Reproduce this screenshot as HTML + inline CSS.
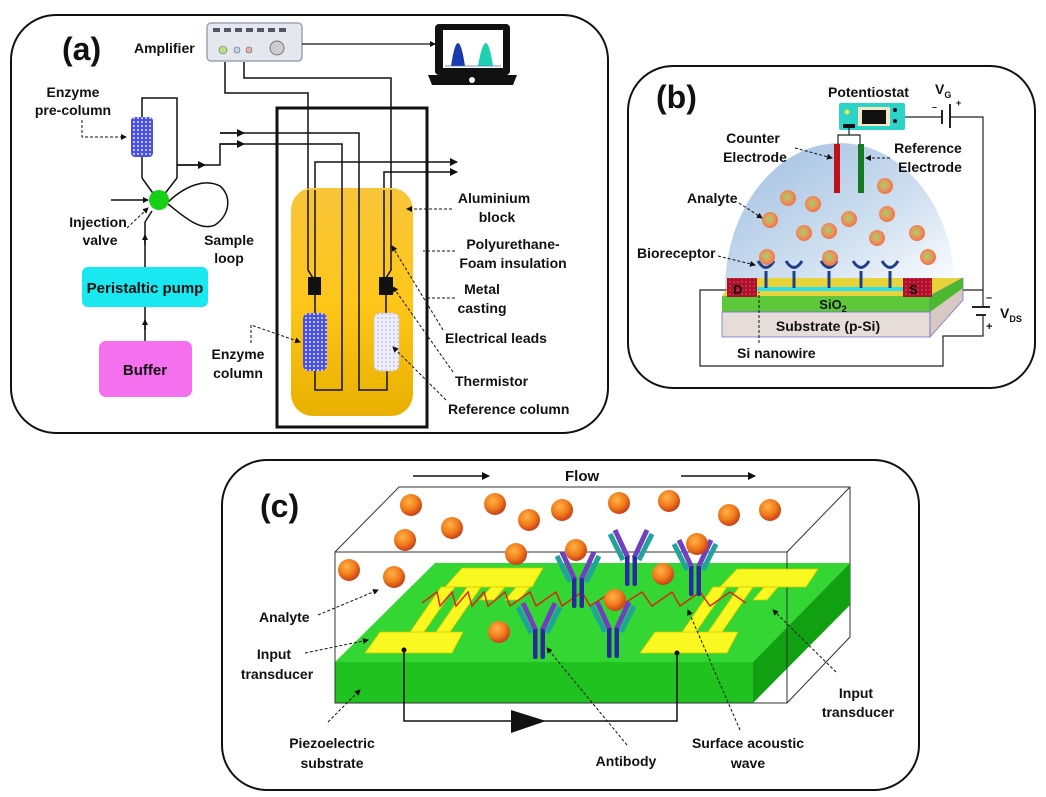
<!DOCTYPE html>
<html><head><meta charset="utf-8"><style>
html,body{margin:0;padding:0;background:#fff;}
svg{display:block;}
text{font-family:"Liberation Sans",Arial,sans-serif;font-weight:bold;fill:#111;}
</style></head><body>
<svg width="1046" height="797" viewBox="0 0 1046 797" xmlns="http://www.w3.org/2000/svg">
<defs>
<radialGradient id="sph" cx="40%" cy="35%" r="65%"><stop offset="0" stop-color="#ffb347"/><stop offset="0.6" stop-color="#f07a1a"/><stop offset="1" stop-color="#c8401a"/></radialGradient>
<radialGradient id="sphb" cx="45%" cy="45%" r="60%"><stop offset="0" stop-color="#9cd46a"/><stop offset="0.55" stop-color="#e9955a"/><stop offset="1" stop-color="#ef6a4a"/></radialGradient>
<linearGradient id="alu" x1="0" y1="0" x2="0" y2="1"><stop offset="0" stop-color="#f8c53a"/><stop offset="0.5" stop-color="#ffc61a"/><stop offset="1" stop-color="#e8b000"/></linearGradient>
<linearGradient id="dome" x1="0" y1="0" x2="1" y2="1"><stop offset="0" stop-color="#9ebde0"/><stop offset="0.6" stop-color="#d0e0f0"/><stop offset="1" stop-color="#ffffff"/></linearGradient>
<pattern id="dots" width="4" height="4" patternUnits="userSpaceOnUse"><rect width="4" height="4" fill="#4a50e0"/><circle cx="2" cy="2" r="1.1" fill="#c8ccff"/></pattern>
<pattern id="dots2" width="4" height="4" patternUnits="userSpaceOnUse"><rect width="4" height="4" fill="#eeeefa"/><circle cx="2" cy="2" r="0.9" fill="#b8bce0"/></pattern>
<pattern id="reddot" width="4" height="4" patternUnits="userSpaceOnUse"><rect width="4" height="4" fill="#b0102a"/><circle cx="2" cy="2" r="0.8" fill="#e05070"/></pattern>
<marker id="ar" markerWidth="8" markerHeight="8" refX="7" refY="4" orient="auto" markerUnits="userSpaceOnUse"><path d="M0,0 L8,4 L0,8 Z" fill="#111"/></marker>
<marker id="ars" markerWidth="6" markerHeight="6" refX="5" refY="3" orient="auto" markerUnits="userSpaceOnUse"><path d="M0,0 L6,3 L0,6 Z" fill="#111"/></marker>
<g id="ab">
 <line x1="-4" y1="-22" x2="-17" y2="-48" stroke="#1fa39a" stroke-width="5" transform="translate(-4,2)"/>
 <line x1="4" y1="-22" x2="17" y2="-48" stroke="#1fa39a" stroke-width="5" transform="translate(4,2)"/>
 <line x1="-3" y1="-22" x2="-16" y2="-50" stroke="#7040c0" stroke-width="5"/>
 <line x1="3" y1="-22" x2="16" y2="-50" stroke="#7040c0" stroke-width="5"/>
 <rect x="-6" y="-24" width="4.5" height="30" rx="2" fill="#2a2a9a"/>
 <rect x="1.5" y="-24" width="4.5" height="30" rx="2" fill="#2a2a9a"/>
</g>
</defs>

<!-- ===== Panel (a) ===== -->
<rect x="11" y="15" width="597" height="418" rx="45" fill="none" stroke="#111" stroke-width="2"/>
<text x="62" y="60" font-size="32">(a)</text>
<text x="134" y="53" font-size="14">Amplifier</text>
<rect x="207" y="23" width="95" height="38" rx="4" fill="#e4e8ee" stroke="#9aa4b0" stroke-width="1.5"/>
<g fill="#556"><rect x="213" y="28" width="7" height="4"/><rect x="224" y="28" width="7" height="4"/><rect x="235" y="28" width="7" height="4"/><rect x="246" y="28" width="7" height="4"/><rect x="257" y="28" width="7" height="4"/><rect x="268" y="28" width="7" height="4"/><rect x="279" y="28" width="7" height="4"/></g>
<circle cx="223" cy="50" r="4" fill="#b8e08a" stroke="#666" stroke-width="0.6"/>
<circle cx="237" cy="50" r="3" fill="#c0d4ee" stroke="#666" stroke-width="0.6"/>
<circle cx="249" cy="50" r="3" fill="#e8b0b0" stroke="#666" stroke-width="0.6"/>
<circle cx="277" cy="48" r="7" fill="#ccc" stroke="#777"/>
<line x1="302" y1="44" x2="435" y2="44" stroke="#111" stroke-width="1.2" marker-end="url(#ars)"/>
<rect x="435" y="24" width="75" height="51" rx="4" fill="#111"/>
<rect x="443" y="30" width="60" height="38" fill="#fff"/>
<path d="M428,75 L517,75 L513,85 L432,85 Z" fill="#111"/>
<circle cx="472" cy="80" r="3" fill="#fff"/>
<path d="M451,66 Q458,20 465,66 Z" fill="#1a3ab0"/>
<path d="M478,66 Q486,20 493,66 Z" fill="#1fd0b0"/>
<line x1="445" y1="66" x2="501" y2="66" stroke="#4a7ac0" stroke-width="0.8"/>

<g fill="none" stroke="#111" stroke-width="1.5">
<polyline points="225,62 225,93 308,93 308,270 313,278"/>
<polyline points="244,62 244,78 391,78 391,270 386,278"/>
<polyline points="315,278 315,162 457,162" marker-end="url(#ar)"/>
<polyline points="384,278 384,172 457,172" marker-end="url(#ar)"/>
</g>
<rect x="277" y="108" width="150" height="319" fill="none" stroke="#111" stroke-width="3"/>
<rect x="291" y="188" width="122" height="228" rx="22" fill="url(#alu)"/>
<g fill="none" stroke="#111" stroke-width="1.5">
<polyline points="308,190 308,270 313,278"/>
<polyline points="315,190 315,278"/>
<polyline points="391,190 391,270 386,278"/>
<polyline points="384,190 384,278"/>
<polyline points="315,295 315,313"/>
<polyline points="386,295 386,313"/>
<polyline points="315,371 315,390 342,390 342,144 220,144 220,165 177,165"/>
<polyline points="387,371 387,390 359,390 359,133 220,133"/>
<line x1="220" y1="133" x2="244" y2="133" marker-end="url(#ar)"/>
<line x1="220" y1="144" x2="244" y2="144" marker-end="url(#ar)"/>
<line x1="177" y1="165" x2="205" y2="165" marker-end="url(#ar)"/>
</g>
<rect x="308" y="277" width="13" height="18" fill="#111"/>
<rect x="379" y="277" width="14" height="18" fill="#111"/>
<rect x="303" y="313" width="24" height="58" rx="6" fill="url(#dots)"/>
<rect x="374" y="313" width="25" height="58" rx="6" fill="url(#dots2)" stroke="#ccd" stroke-width="0.5"/>

<g fill="none" stroke="#111" stroke-width="1.5">
<polyline points="142,178 142,98 177,98 177,178 163,196"/>
<polyline points="142,178 155,196"/>
<path d="M168,202 C185,186 205,178 220,186 C232,196 230,215 215,225 C200,232 182,215 168,204"/>
<line x1="111" y1="200" x2="148" y2="200" marker-end="url(#ars)"/>
<line x1="145" y1="267" x2="145" y2="222"/>
<line x1="145" y1="222" x2="152" y2="211"/>
<line x1="145" y1="245" x2="145" y2="235" marker-end="url(#ars)"/>
<line x1="145" y1="341" x2="145" y2="307"/>
<line x1="145" y1="330" x2="145" y2="320" marker-end="url(#ars)"/>
</g>
<rect x="131" y="117" width="22" height="40" rx="4" fill="url(#dots)"/>
<circle cx="159" cy="200" r="10" fill="#16d016"/>
<rect x="82" y="267" width="126" height="40" rx="6" fill="#1ae8f0"/>
<text x="145" y="293" font-size="15" text-anchor="middle">Peristaltic pump</text>
<rect x="99" y="341" width="93" height="56" rx="7" fill="#f470ee"/>
<text x="145" y="375" font-size="15" text-anchor="middle">Buffer</text>

<g font-size="14">
<text x="73" y="97" text-anchor="middle">Enzyme</text>
<text x="73" y="115" text-anchor="middle">pre-column</text>
<text x="98" y="227" text-anchor="middle">Injection</text>
<text x="100" y="245" text-anchor="middle">valve</text>
<text x="229" y="245" text-anchor="middle">Sample</text>
<text x="229" y="263" text-anchor="middle">loop</text>
<text x="238" y="359" text-anchor="middle">Enzyme</text>
<text x="238" y="378" text-anchor="middle">column</text>
<text x="494" y="203" text-anchor="middle">Aluminium</text>
<text x="497" y="222" text-anchor="middle">block</text>
<text x="513" y="249" text-anchor="middle">Polyurethane-</text>
<text x="513" y="268" text-anchor="middle">Foam insulation</text>
<text x="482" y="294" text-anchor="middle">Metal</text>
<text x="482" y="313" text-anchor="middle">casting</text>
<text x="445" y="343">Electrical leads</text>
<text x="455" y="386">Thermistor</text>
<text x="448" y="414">Reference column</text>
</g>
<g fill="none" stroke="#111" stroke-width="1" stroke-dasharray="3,2">
<polyline points="82,120 82,137 126,137" marker-end="url(#ars)"/>
<line x1="127" y1="228" x2="148" y2="208" marker-end="url(#ars)"/>
<polyline points="251,343 251,325 300,342" marker-end="url(#ars)"/>
<line x1="452" y1="209" x2="407" y2="209" marker-end="url(#ars)"/>
<line x1="455" y1="251" x2="423" y2="251"/>
<line x1="455" y1="298" x2="428" y2="298"/>
<line x1="443" y1="330" x2="392" y2="246" marker-end="url(#ars)"/>
<line x1="453" y1="372" x2="393" y2="287" marker-end="url(#ars)"/>
<line x1="446" y1="400" x2="393" y2="347" marker-end="url(#ars)"/>
</g>

<!-- ===== Panel (b) ===== -->
<rect x="628" y="66" width="407" height="322" rx="45" fill="none" stroke="#111" stroke-width="2"/>
<text x="656" y="108" font-size="32">(b)</text>
<path d="M725,290 A115,147 0 0 1 955,290 Z" fill="url(#dome)"/>
<text x="828" y="97" font-size="14">Potentiostat</text>
<text x="935" y="94" font-size="14">V<tspan font-size="9" dy="4">G</tspan></text>
<rect x="839" y="103" width="66" height="27" rx="2" fill="#2cd4c8"/>
<rect x="858" y="107" width="32" height="19" fill="#f4e8c8"/>
<rect x="862" y="110" width="24" height="14" fill="#111"/>
<circle cx="847" cy="112" r="2.5" fill="#ee4"/>
<circle cx="895" cy="110" r="2" fill="#111"/><circle cx="895" cy="121" r="2" fill="#111"/>
<rect x="843" y="124" width="12" height="4" fill="#111"/>
<g fill="none" stroke="#222" stroke-width="1.2">
<polyline points="849,128 849,135 838,135 838,145"/>
<polyline points="849,135 860,135 860,145"/>
<line x1="905" y1="117" x2="942" y2="117"/>
<line x1="942" y1="110" x2="942" y2="124" stroke-width="2"/>
<line x1="950" y1="104" x2="950" y2="128" stroke-width="2"/>
<polyline points="950,117 983,117 983,307"/>
<line x1="972" y1="307" x2="990" y2="307" stroke-width="2"/>
<line x1="976" y1="315" x2="986" y2="315" stroke-width="2"/>
<polyline points="983,315 983,336 943,336 943,366 700,366 700,290 732,290"/>
<line x1="983" y1="290" x2="932" y2="290"/>
</g>
<text x="932" y="110" font-size="9">–</text><text x="956" y="106" font-size="9">+</text>
<rect x="834" y="144" width="6" height="49" fill="#c0101a"/>
<rect x="858" y="144" width="6" height="49" fill="#147a24"/>
<polygon points="722,296 930,296 963,278 735,278" fill="#e8d43a"/>
<rect x="722" y="296" width="208" height="16" fill="#5cc83a"/>
<rect x="722" y="312" width="208" height="25" fill="#e6dcd8" stroke="#7070d0" stroke-width="0.8"/>
<polygon points="930,296 963,278 963,300 930,337" fill="#d8c8c4" stroke="#7070d0" stroke-width="0.8"/>
<polygon points="930,296 963,278 963,288 930,312" fill="#4cb830"/>
<rect x="757" y="287" width="146" height="4" fill="#2ae0f0"/>
<rect x="727" y="278" width="30" height="19" fill="url(#reddot)"/>
<rect x="903" y="278" width="29" height="19" fill="url(#reddot)"/>
<text x="733" y="294" font-size="13">D</text>
<text x="909" y="294" font-size="13">S</text>
<text x="833" y="309" font-size="13" text-anchor="middle">SiO<tspan font-size="9" dy="3">2</tspan></text>
<text x="828" y="331" font-size="14" text-anchor="middle">Substrate (p-Si)</text>
<g fill="none" stroke="#1f3e8a" stroke-width="3">
<path d="M758,261 Q766,274 774,261 M766,271 L766,288"/>
<path d="M786,261 Q794,274 802,261 M794,271 L794,288"/>
<path d="M821,261 Q829,274 837,261 M829,271 L829,288"/>
<path d="M853,261 Q861,274 869,261 M861,271 L861,288"/>
<path d="M882,261 Q890,274 898,261 M890,271 L890,288"/>
</g>
<g fill="url(#sphb)">
<circle cx="788" cy="198" r="8"/><circle cx="813" cy="204" r="8"/><circle cx="770" cy="220" r="8"/>
<circle cx="804" cy="233" r="8"/><circle cx="829" cy="231" r="8"/><circle cx="849" cy="219" r="8"/>
<circle cx="885" cy="186" r="8"/><circle cx="887" cy="214" r="8"/><circle cx="877" cy="238" r="8"/>
<circle cx="917" cy="233" r="8"/><circle cx="767" cy="257" r="8"/><circle cx="830" cy="258" r="8"/>
<circle cx="928" cy="257" r="8"/>
</g>
<g font-size="14">
<text x="753" y="143" text-anchor="middle">Counter</text>
<text x="755" y="162" text-anchor="middle">Electrode</text>
<text x="928" y="153" text-anchor="middle">Reference</text>
<text x="930" y="172" text-anchor="middle">Electrode</text>
<text x="687" y="203">Analyte</text>
<text x="637" y="258">Bioreceptor</text>
<text x="737" y="358">Si nanowire</text>
<text x="1000" y="318">V<tspan font-size="9" dy="4">DS</tspan></text>
</g>
<text x="986" y="301" font-size="11">–</text><text x="986" y="330" font-size="11">+</text>
<g fill="none" stroke="#111" stroke-width="1" stroke-dasharray="3,2">
<line x1="795" y1="148" x2="832" y2="158" marker-end="url(#ars)"/>
<line x1="890" y1="158" x2="866" y2="158" marker-end="url(#ars)"/>
<line x1="739" y1="203" x2="762" y2="218" marker-end="url(#ars)"/>
<line x1="718" y1="256" x2="755" y2="265" marker-end="url(#ars)"/>
<line x1="759" y1="343" x2="759" y2="292"/>
</g>

<!-- ===== Panel (c) ===== -->
<rect x="222" y="460" width="697" height="330" rx="45" fill="none" stroke="#111" stroke-width="2"/>
<text x="260" y="517" font-size="32">(c)</text>
<line x1="413" y1="476" x2="489" y2="476" stroke="#111" stroke-width="1.5" marker-end="url(#ar)"/>
<line x1="681" y1="476" x2="755" y2="476" stroke="#111" stroke-width="1.5" marker-end="url(#ar)"/>
<text x="565" y="481" font-size="15">Flow</text>
<g fill="none" stroke="#333" stroke-width="1">
<polyline points="335,552 399,487 850,487 850,637 787,703"/>
<line x1="787" y1="552" x2="850" y2="487"/>
</g>
<polygon points="335,662 753,662 850,563 435,563" fill="#33d633"/>
<rect x="335" y="662" width="418" height="41" fill="#1fc21f"/>
<polygon points="753,662 850,563 850,605 753,703" fill="#11a011"/>
<rect x="335" y="552" width="452" height="151" fill="none" stroke="#333" stroke-width="1"/>
<g fill="#f8f820" stroke="#d8c800" stroke-width="0.8">
<polygon points="462,568 543,568 532,587 445,587"/>
<polygon points="380,632 463,632 452,653 365,653"/>
<polygon points="410,632 424,632 455,587 441,587"/>
<polygon points="436,632 450,632 481,587 467,587"/>
<polygon points="480,600 494,600 505,587 491,587"/>
<polygon points="505,600 519,600 530,587 516,587"/>
<polygon points="737,569 818,569 806,587 720,587"/>
<polygon points="655,632 738,632 727,653 640,653"/>
<polygon points="682,632 696,632 727,587 713,587"/>
<polygon points="708,632 722,632 753,587 739,587"/>
<polygon points="753,600 767,600 778,587 764,587"/>
</g>
<polyline fill="none" stroke="#e02010" stroke-width="1.4" points="422,603 437,592 440,606 452,592 456,606 468,592 472,606 484,592 488,606 505,592 510,606 530,592 536,606 556,592 562,606 582,592 590,606 612,592 620,606 642,592 652,606 672,592 680,606 700,592 710,606 730,592 746,603"/>
<g fill="none" stroke="#111" stroke-width="1.5">
<polyline points="404,650 404,721 677,721 677,653"/>
</g>
<circle cx="404" cy="650" r="2.5" fill="#111"/><circle cx="677" cy="653" r="2.5" fill="#111"/>
<polygon points="511,710 546,721 511,733" fill="#111"/>
<use href="#ab" transform="translate(578,602)"/>
<use href="#ab" transform="translate(631,580)"/>
<use href="#ab" transform="translate(695,590)"/>
<use href="#ab" transform="translate(539,653)"/>
<use href="#ab" transform="translate(613,652)"/>
<g fill="url(#sph)">
<circle cx="411" cy="505" r="11"/><circle cx="495" cy="504" r="11"/><circle cx="562" cy="510" r="11"/>
<circle cx="619" cy="503" r="11"/><circle cx="669" cy="501" r="11"/><circle cx="729" cy="515" r="11"/>
<circle cx="770" cy="510" r="11"/><circle cx="452" cy="528" r="11"/><circle cx="405" cy="540" r="11"/>
<circle cx="529" cy="520" r="11"/><circle cx="516" cy="554" r="11"/><circle cx="576" cy="550" r="11"/>
<circle cx="697" cy="544" r="11"/><circle cx="349" cy="570" r="11"/><circle cx="394" cy="577" r="11"/>
<circle cx="663" cy="574" r="11"/><circle cx="615" cy="600" r="11"/><circle cx="499" cy="632" r="11"/>
</g>
<g font-size="14">
<text x="259" y="622">Analyte</text>
<text x="274" y="659" text-anchor="middle">Input</text>
<text x="277" y="679" text-anchor="middle">transducer</text>
<text x="856" y="698" text-anchor="middle">Input</text>
<text x="858" y="717" text-anchor="middle">transducer</text>
<text x="332" y="748" text-anchor="middle">Piezoelectric</text>
<text x="332" y="768" text-anchor="middle">substrate</text>
<text x="626" y="766" text-anchor="middle">Antibody</text>
<text x="748" y="748" text-anchor="middle">Surface acoustic</text>
<text x="748" y="768" text-anchor="middle">wave</text>
</g>
<g fill="none" stroke="#111" stroke-width="1" stroke-dasharray="3,2">
<line x1="318" y1="615" x2="378" y2="590" marker-end="url(#ars)"/>
<line x1="305" y1="653" x2="368" y2="640" marker-end="url(#ars)"/>
<line x1="836" y1="672" x2="773" y2="610" marker-end="url(#ars)"/>
<line x1="328" y1="722" x2="360" y2="690" marker-end="url(#ars)"/>
<line x1="627" y1="745" x2="547" y2="648" marker-end="url(#ars)"/>
<line x1="740" y1="730" x2="688" y2="610" marker-end="url(#ars)"/>
</g>
</svg>
</body></html>
